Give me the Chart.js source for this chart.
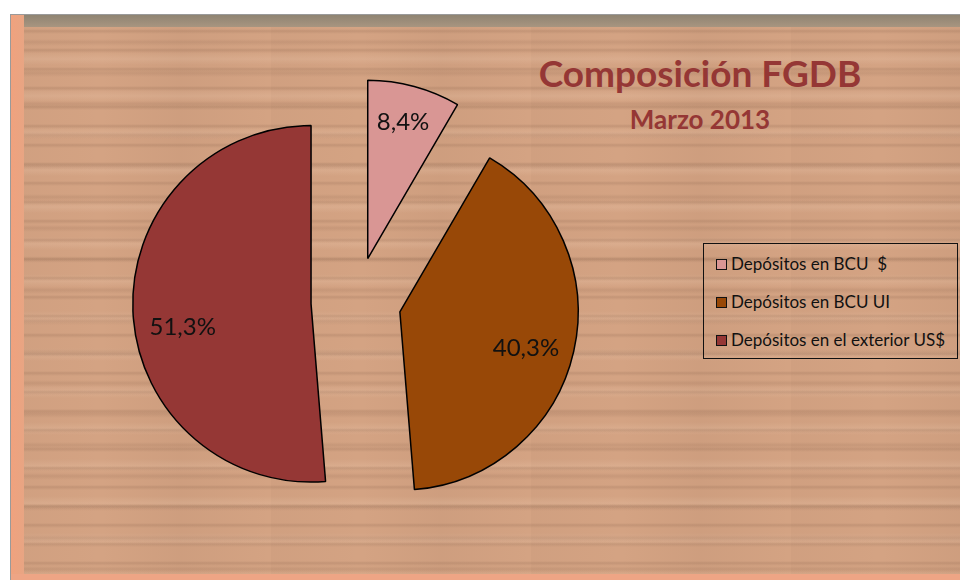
<!DOCTYPE html>
<html>
<head>
<meta charset="utf-8">
<script src="https://cdn.jsdelivr.net/npm/chart.js@4"></script>
<style>
  html, body { margin: 0; padding: 0; background: #fff; }
  #wrap { position: relative; width: 960px; height: 580px; overflow: hidden; }
  #board {
    position: absolute; left: 10px; top: 14px; width: 960px; height: 570px;
    background-color: #d4a383;
    background-image:
      repeating-linear-gradient(180deg, rgba(110,75,55,0) 0px, rgba(110,75,55,0) 14px, rgba(110,75,55,0.16) 16px, rgba(110,75,55,0) 19px),
      repeating-linear-gradient(180deg, rgba(110,75,55,0) 0px, rgba(110,75,55,0) 24px, rgba(110,75,55,0.12) 27px, rgba(110,75,55,0) 31px),
      repeating-linear-gradient(180deg, rgba(255,228,205,0) 0px, rgba(255,228,205,0.14) 7px, rgba(255,228,205,0) 13px, rgba(255,228,205,0) 37px),
      repeating-linear-gradient(90deg, rgba(110,75,55,0.04) 0px, rgba(110,75,55,0) 90px, rgba(110,75,55,0.06) 170px, rgba(110,75,55,0) 260px);
    border-top: 1px solid #9a9a9a;
    border-left: 1px solid #9a9a9a;
  }
  #bevelTop { position: absolute; left: 11px; top: 15px; width: 960px; height: 12px;
    background: linear-gradient(180deg, #8f8472, #a89580); }
  #bevelLeft { position: absolute; left: 11px; top: 15px; width: 13px; height: 565px;
    background: linear-gradient(90deg, #f0a27e, #e8a583); }
  #bevelBottom { position: absolute; left: 11px; top: 574px; width: 960px; height: 6px;
    background: #eea585; }
  #chart { position: absolute; left: 0; top: 0; }
  #title { position: absolute; left: 500px; width: 400px; top: 50px; text-align: center;
    font-family: Lato, "Open Sans", sans-serif; font-weight: bold; font-size: 37px; color: #953735; }
  #subtitle { position: absolute; left: 500px; width: 400px; top: 103px; text-align: center;
    font-family: Lato, "Open Sans", sans-serif; font-weight: bold; font-size: 26px; color: #953735; }
  #legend { position: absolute; left: 703px; top: 243px; width: 253px; height: 114px;
    border: 1.5px solid #111; font-family: Lato, "Open Sans", sans-serif; font-size: 17px; color: #111; }
  .item { position: absolute; left: 12px; height: 20px; line-height: 20px; white-space: nowrap; }
  .sw { display: inline-block; width: 9px; height: 9px; border: 1px solid #111; margin-right: 4px; vertical-align: 0px; }
</style>
</head>
<body>
<div id="wrap">
  <div id="board"></div>
  <div id="bevelTop"></div>
  <div id="bevelLeft"></div>
  <div id="bevelBottom"></div>
  <div id="title">Composición FGDB</div>
  <div id="subtitle">Marzo 2013</div>
  <div id="legend"></div>
  <canvas id="chart" width="960" height="580"></canvas>
</div>
<script>
document.addEventListener('DOMContentLoaded', function() {
  // data
  const categories = ['Depósitos en BCU  $', 'Depósitos en BCU UI', 'Depósitos en el exterior US$'];
  const shares = [8.4, 40.3, 51.3];
  const colors = ['#d99694', '#984807', '#953735'];

  const EXPLODE = 45; // px each slice is pulled out
  const labelNudge = [[0, -6], [-6, 6], [7, 18]]; // small label shifts, like the original

  // every slice is pushed out by the same distance, without resizing it
  const baseArcDraw = Chart.ArcElement.prototype.draw;
  Chart.ArcElement.prototype.draw = function(ctx) {
    const mid = (this.startAngle + this.endAngle) / 2;
    ctx.save();
    ctx.translate(Math.cos(mid) * EXPLODE, Math.sin(mid) * EXPLODE);
    baseArcDraw.call(this, ctx);
    ctx.restore();
  };

  // percent labels inside the slices
  const sliceLabels = {
    id: 'sliceLabels',
    afterDatasetsDraw(chart) {
      const ctx = chart.ctx;
      const meta = chart.getDatasetMeta(0);
      ctx.save();
      ctx.font = '24px Lato, "Open Sans", sans-serif';
      ctx.fillStyle = '#111';
      ctx.textAlign = 'center';
      ctx.textBaseline = 'middle';
      meta.data.forEach(function(arc, i) {
        const mid = (arc.startAngle + arc.endAngle) / 2;
        const d = EXPLODE + arc.outerRadius * 0.76;
        const text = shares[i].toFixed(1).replace('.', ',') + '%';
        ctx.fillText(text,
          arc.x + Math.cos(mid) * d + labelNudge[i][0],
          arc.y + Math.sin(mid) * d + labelNudge[i][1]);
      });
      ctx.restore();
    }
  };

  // legend box in html
  const legend = document.getElementById('legend');
  categories.forEach(function(name, i) {
    const row = document.createElement('div');
    row.className = 'item';
    row.style.top = (10 + i * 38) + 'px';
    row.innerHTML = '<span class="sw" style="background:' + colors[i] + '"></span>' + name.replace(/  /g, '&nbsp; ');
    legend.appendChild(row);
  });

  const ctx = document.getElementById('chart').getContext('2d');
  new Chart(ctx, {
    type: 'pie',
    data: {
      labels: categories,
      datasets: [{
        data: shares,
        backgroundColor: colors,
        borderColor: '#000',
        borderWidth: 1.5,
        hoverOffset: 0
      }]
    },
    options: {
      responsive: false,
      animation: false,
      events: [],
      layout: { padding: { left: 177, top: 123, right: 425, bottom: 99 } },
      plugins: {
        legend: { display: false },
        tooltip: { enabled: false }
      }
    },
    plugins: [sliceLabels]
  });
});
</script>
</body>
</html>
